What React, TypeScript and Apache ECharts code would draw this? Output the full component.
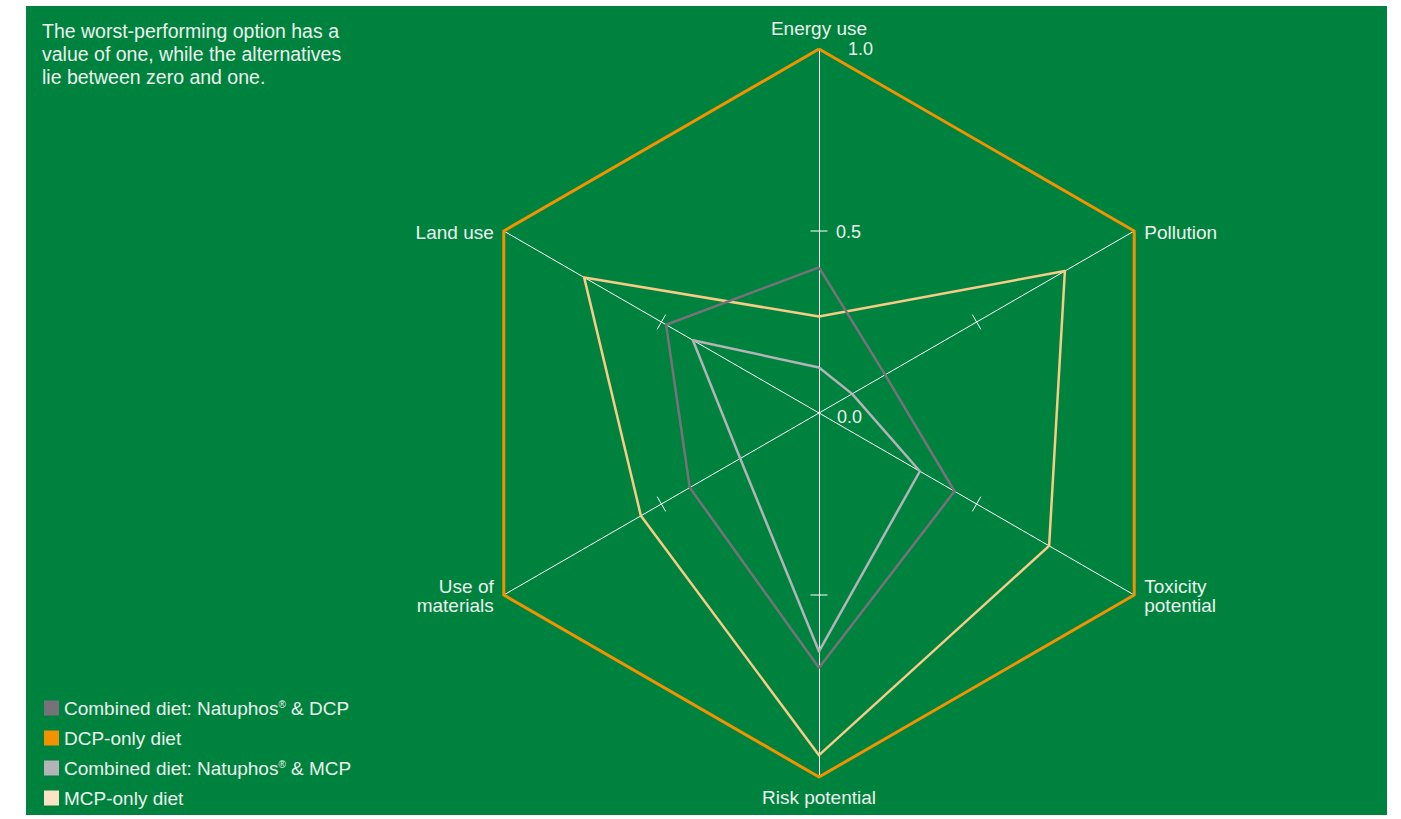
import React, { useEffect, useRef } from "react";
import * as echarts from "echarts";

// Indicators listed in ECharts' counter-clockwise order, starting at the top
const indicatorNames = [
  "Energy use",
  "Land use",
  "Use of\nmaterials",
  "Risk potential",
  "Toxicity\npotential",
  "Pollution",
];

const seriesNames = [
  "Combined diet: Natuphos® & DCP",
  "DCP-only diet",
  "Combined diet: Natuphos® & MCP",
  "MCP-only diet",
];

const natuphosDcp = [0.4, 0.485, 0.41, 0.7, 0.43, 0.21];
const dcpOnly = [1, 1, 1, 1, 1, 1];
const natuphosMcp = [0.125, 0.4, 0.25, 0.655, 0.32, 0.105];
const mcpOnly = [0.265, 0.745, 0.565, 0.94, 0.73, 0.78];

const tickValues = [0, 0.5, 1];
const tickLabels = ["0.0", "0.5", "1.0"];

const noteLines = [
  "The worst-performing option has a",
  "value of one, while the alternatives",
  "lie between zero and one.",
];

const FONT = "'Liberation Sans', Arial, Helvetica, sans-serif";
const TEXT = "#eaf3ec";
const GREEN = "#00823f";
const CX = 819;
const CY = 413;
const R = 364;
const FS = 19;

export default function App() {
  const ref = useRef<HTMLDivElement>(null);

  useEffect(() => {
    if (!ref.current) return;
    const chart = echarts.init(ref.current, null, { renderer: "svg" });

    const n = indicatorNames.length;
    const graphics: any[] = [
      {
        type: "rect",
        z: -10,
        shape: { x: 26, y: 6, width: 1361, height: 809 },
        style: { fill: GREEN },
        silent: true,
      },
      {
        type: "text",
        x: 42,
        y: 19.5,
        style: {
          text: noteLines.join("\n"),
          fill: TEXT,
          fontSize: 19.5,
          fontFamily: FONT,
          lineHeight: 23,
          textVerticalAlign: "top",
        },
      },
    ];

    for (let i = 0; i < n; i++) {
      const a = Math.PI / 2 + (i * 2 * Math.PI) / n;
      const ca = Math.cos(a);
      const sa = Math.sin(a);
      // half-way tick crossing the axis
      const r = 0.5 * R;
      const px = CX + r * ca;
      const py = CY - r * sa;
      const h = 8.5;
      graphics.push({
        type: "line",
        z: 5,
        shape: { x1: px - h * sa, y1: py - h * ca, x2: px + h * sa, y2: py + h * ca },
        style: { stroke: "#ffffff", lineWidth: 1 },
        silent: true,
      });
      // indicator name
      const vx = CX + R * ca;
      const vy = CY - R * sa;
      let x = vx;
      let y = vy + 1;
      let align = "center";
      let valign = "middle";
      if (Math.abs(ca) < 0.01) {
        if (sa > 0) {
          y = vy - 11;
          valign = "bottom";
        } else {
          y = vy + 11;
          valign = "top";
        }
      } else if (ca > 0) {
        x = vx + 10;
        align = "left";
      } else {
        x = vx - 10;
        align = "right";
      }
      graphics.push({
        type: "text",
        z: 6,
        x,
        y,
        style: {
          text: indicatorNames[i],
          fill: TEXT,
          fontSize: FS,
          fontFamily: FONT,
          lineHeight: 19,
          align,
          verticalAlign: valign,
        },
      });
    }

    // value labels along the top axis
    const labelDx = [18, 17, 29];
    const labelDy = [4, 1, 0];
    tickValues.forEach((v, i) => {
      graphics.push({
        type: "text",
        z: 6,
        x: CX + labelDx[i],
        y: CY - v * R + labelDy[i],
        style: {
          text: tickLabels[i],
          fill: TEXT,
          fontSize: 18,
          fontFamily: FONT,
          verticalAlign: "middle",
        },
      });
    });

    const mk = (name: string, data: number[], line: string, item: string, width: number) => ({
      type: "radar",
      name,
      symbol: "none",
      data: [{ value: data, name }],
      lineStyle: { color: line, width },
      itemStyle: { color: item },
    });

    chart.setOption({
      animation: false,
      backgroundColor: "#ffffff",
      graphic: graphics,
      legend: {
        orient: "vertical",
        left: 39,
        top: 693,
        itemWidth: 15,
        itemHeight: 15,
        itemGap: 10,
        icon: "rect",
        data: seriesNames,
        selectedMode: false,
        formatter: (name: string) => name.replace("®", "{sup|®}"),
        textStyle: {
          color: TEXT,
          fontSize: FS,
          fontFamily: FONT,
          lineHeight: 20,
          rich: {
            sup: { fontSize: 10, color: TEXT, fontFamily: FONT, padding: [0, 0, 8, 0] },
          },
        },
      },
      radar: {
        center: [CX, CY],
        radius: R,
        startAngle: 90,
        shape: "polygon",
        splitNumber: 2,
        indicator: indicatorNames.map((name) => ({ name, min: 0, max: 1 })),
        axisName: { show: false },
        axisLine: { lineStyle: { color: "#ffffff", width: 1 } },
        splitLine: { show: false },
        splitArea: { show: false },
        axisTick: { show: false },
        axisLabel: { show: false },
      },
      series: [
        mk(seriesNames[1], dcpOnly, "#f39200", "#f39200", 3),
        mk(seriesNames[3], mcpOnly, "#f8cb86", "#fde3c6", 2.5),
        mk(seriesNames[2], natuphosMcp, "#b3b3b8", "#b3b3b8", 2.5),
        mk(seriesNames[0], natuphosDcp, "#77727a", "#77727a", 2.5),
      ],
    });

    return () => chart.dispose();
  }, []);

  return (
    <div
      ref={ref}
      style={{ position: "absolute", left: 0, top: 0, width: 1401, height: 819 }}
    />
  );
}
